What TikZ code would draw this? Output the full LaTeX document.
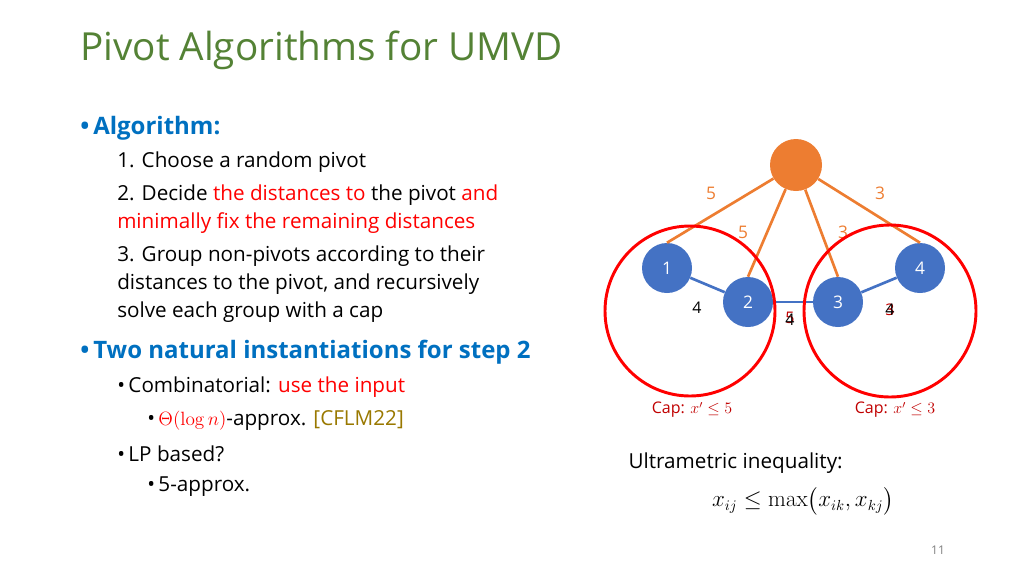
\documentclass[tikz,border=0pt]{standalone}
\usepackage{amsmath}
\usepackage[no-math]{fontspec}
\setmainfont{Open Sans}
\definecolor{tgreen}{RGB}{84,130,53}
\definecolor{tblue}{RGB}{0,112,192}
\definecolor{nblue}{RGB}{68,114,196}
\definecolor{orng}{RGB}{237,125,49}
\definecolor{tred}{RGB}{255,0,0}
\definecolor{dred}{RGB}{192,0,0}
\definecolor{olive}{RGB}{153,120,0}
\begin{document}
\begin{tikzpicture}[x=0.75pt,y=-0.75pt,
  txt/.style={anchor=west,inner sep=0pt,font=\fontsize{15.5}{17}\selectfont},
  hd/.style={anchor=west,inner sep=0pt,text=tblue,font=\fontsize{18}{20}\selectfont\bfseries},
  vert/.style={circle,fill=nblue,minimum size=50*0.75pt,inner sep=0pt,text=white,font=\fontsize{13}{14}\selectfont},
  oe/.style={orng,line width=2pt},
  be/.style={nblue,line width=2pt},
  ol/.style={text=orng,font=\fontsize{13}{14}\selectfont},
  el/.style={font=\fontsize{12}{14}\selectfont}]
\useasboundingbox (0,0) rectangle (1024,576);
\node[anchor=west,inner sep=0pt,text=tgreen,font=\fontsize{29}{32}\selectfont] (title) at (80,50) {Pivot Algorithms for UMVD};
\node[hd] (a) at (80,128) {•\,Algorithm:};
\node[txt] (l1) at (117,162) {1. Choose a random pivot};
\node[txt] (l2) at (117,195) {2. Decide \textcolor{tred}{the distances to} the pivot \textcolor{tred}{and}};
\node[txt,text=tred] (l3) at (117,223) {minimally fix the remaining distances};
\node[txt] (l4) at (117,256) {3. Group non-pivots according to their};
\node[txt] (l5) at (117,284) {distances to the pivot, and recursively};
\node[txt] (l6) at (117,312) {solve each group with a cap};
\node[hd] (b) at (80,352) {•\,Two natural instantiations for step 2};
\node[txt] (c1) at (117,387) {•\,Combinatorial: \textcolor{tred}{use the input}};
\node[txt] (c2) at (147,420) {•\,\textcolor{tred}{$\Theta(\log n)$}-approx. \textcolor{olive}{[CFLM22]}};
\node[txt] (c3) at (117,454) {•\,LP based?};
\node[txt] (c4) at (147,487) {•\,5-approx.};
% graph
\node[circle,fill=orng,minimum size=52*0.75pt] (p) at (796,165) {};
\node[vert] (v1) at (667,268) {1};
\node[vert] (v2) at (748,302) {2};
\node[vert] (v3) at (838,302) {3};
\node[vert] (v4) at (920,268) {4};
\draw[be] (v1) -- (v2); \draw[be] (v2) -- (v3); \draw[be] (v3) -- (v4);
\draw[oe] (p) -- (v1.north); \draw[oe] (p) -- (v2.north);
\draw[oe] (p) -- (v3.north); \draw[oe] (p) -- (v4.north);
\node[ol] (q1) at (711,193) {5}; \node[ol] (q2) at (880,193) {3};
\node[ol] (q3) at (743,232) {5}; \node[ol] (q4) at (843,232) {3};
\node[el] (e1) at (697,308) {4};
\node[el,text=dred] (e2a) at (790,318) {5}; \node[el] (e2b) at (790,320) {4};
\node[el,text=dred] (e3a) at (890,310) {3}; \node[el] (e3b) at (890,310) {4};
\draw[tred,line width=2.2pt] (690,311) circle (85);
\draw[tred,line width=2.2pt] (890,311) circle (86);
\node[text=dred,font=\fontsize{12}{14}\selectfont] (cap1) at (692,410) {Cap: $x'\le 5$};
\node[text=dred,font=\fontsize{12}{14}\selectfont] (cap2) at (895,410) {Cap: $x'\le 3$};
\node[txt,inner sep=1pt] (u) at (627,463) {Ultrametric inequality:};
\node[inner sep=0pt,font=\fontsize{16}{17}\selectfont] (ineq) at (803,501) {$x_{ij}\le \max\bigl(x_{ik},x_{kj}\bigr)$};
\node[font=\fontsize{9}{10}\selectfont,text=gray] (pg) at (938,550) {11};
\end{tikzpicture}
\end{document}
